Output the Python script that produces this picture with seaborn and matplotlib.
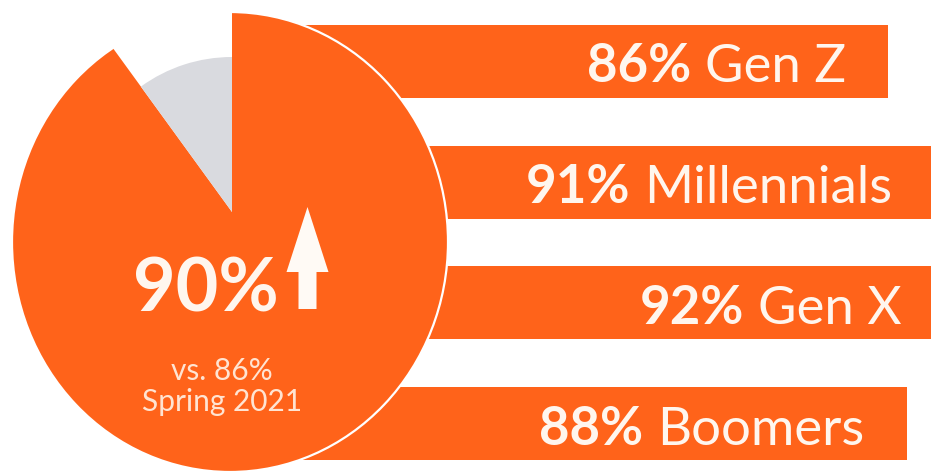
import matplotlib
matplotlib.use("Agg")
import matplotlib.pyplot as plt
from matplotlib.patches import Ellipse, FancyArrow
import pandas as pd
import seaborn as sns

# data
generations = ["Gen Z", "Millennials", "Gen X", "Boomers"]
gen_share = [86, 91, 92, 88]
overall_share = [90, 10]   # share / rest
overall_now = "90%"
overall_prev = "vs. 86%"
prev_period = "Spring 2021"

ORANGE = "#FF631A"
GRAY = "#D9DADF"
TXT = "#FFF6EE"
TXT_SOFT = "#FFE4D2"

W, H = 931, 474
fig = plt.figure(figsize=(W / 100, H / 100), dpi=100)
fig.patch.set_facecolor("white")

# bars (drawn first, the circle covers their left part)
df = pd.DataFrame({"generation": generations, "share": gen_share})
bx0 = 240
ax_bar = fig.add_axes([bx0 / W, 0, (W - bx0) / W, 1])
sns.barplot(data=df, x="share", y="generation", orient="h", color=ORANGE,
            saturation=1, width=0.605, ax=ax_bar)
px_per_unit = 9.3
xmin = 86 - (888 - bx0) / px_per_unit
ax_bar.set_xlim(xmin, xmin + (W - bx0) / px_per_unit)
row = 120.67
ytop = -61.5 / row
ax_bar.set_ylim(ytop + H / row, ytop)
ax_bar.axis("off")

for i, (g, v) in enumerate(zip(generations, gen_share)):
    t = ax_bar.annotate(g, xy=(v, i), xytext=(-42, -21), textcoords="offset pixels",
                        ha="right", va="baseline", color=TXT, fontsize=38,
                        family="Lato", fontweight="normal", annotation_clip=False)
    ax_bar.annotate(f"{v}%", xy=(0, 0), xycoords=t, xytext=(-14, 0),
                    textcoords="offset pixels", ha="right", va="bottom",
                    color=TXT, fontsize=38, family="Lato", fontweight="bold",
                    annotation_clip=False)

# pie in pixel coordinates (y up)
ax = fig.add_axes([0, 0, 1, 1])
ax.patch.set_alpha(0)
ax.set_xlim(0, W)
ax.set_ylim(0, H)
ell = Ellipse((230, H - 242), 436, 460, facecolor="none",
              edgecolor="white", linewidth=1.6, zorder=3)
ax.add_patch(ell)
wedges, texts = ax.pie(overall_share, colors=[ORANGE, GRAY], startangle=90,
                       counterclock=False, center=(232, H - 212), radius=320,
                       frame=True, wedgeprops=dict(linewidth=0))
for t in texts:
    t.remove()
wedges[0].set_clip_path(ell)
wedges[0].set_clip_on(True)
wedges[1].set_radius(155)
ax.set_xlim(0, W)
ax.set_ylim(0, H)
ax.set_aspect("auto")
ax.axis("off")

ax.text(133, H - 311, overall_now, ha="left", va="baseline", color=TXT,
        fontsize=53, family="Lato", fontweight="bold")
ax.add_patch(FancyArrow(307.5, H - 309, 0, 102, width=18, head_width=42,
                        head_length=65, length_includes_head=True,
                        color="#FFFAF5", linewidth=0, zorder=4))
ax.text(222, H - 380, overall_prev, ha="center", va="baseline", color=TXT_SOFT,
        fontsize=21.5, family="Lato")
ax.text(222, H - 411, prev_period, ha="center", va="baseline", color=TXT_SOFT,
        fontsize=21.5, family="Lato")

fig.savefig("out.png", dpi=100)
